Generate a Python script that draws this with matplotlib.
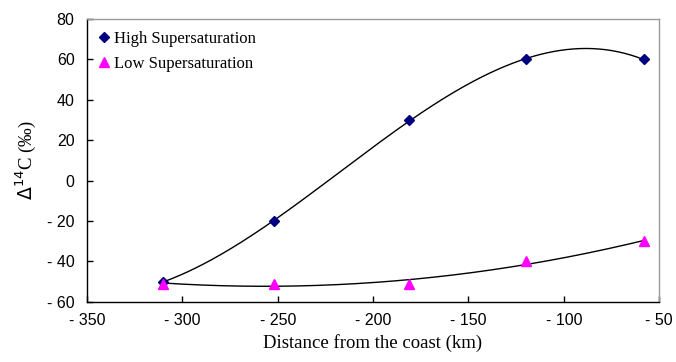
import numpy as np
import matplotlib.pyplot as plt

distance = [-310, -252, -181, -120, -58]
high_sat = [-50, -20, 30, 60, 60]
low_sat = [-51, -51, -51, -40, -30]

xticks = [-350, -300, -250, -200, -150, -100, -50]
yticks = [-60, -40, -20, 0, 20, 40, 60, 80]

fig = plt.figure(figsize=(6.76, 3.62), dpi=100)
ax = fig.add_axes([0.1287, 0.166, 0.8463, 0.7815])

x = np.array(distance, dtype=float)
xs = np.linspace(x.min(), x.max(), 300)

# trendlines (polynomial fits to each series)
p_high = np.polyfit(x, high_sat, 3)
p_low = np.polyfit(x, low_sat, 2)
ax.plot(xs, np.polyval(p_high, xs), color="black", lw=1.0, zorder=2)
ax.plot(xs, np.polyval(p_low, xs), color="black", lw=1.0, zorder=2)

ax.plot(distance, high_sat, ls="none", marker="D", ms=5, color="#000080",
        label="High Supersaturation", zorder=3)
ax.plot(distance, low_sat, ls="none", marker="^", ms=7, color="#FF00FF",
        label="Low Supersaturation", zorder=3)

ax.set_xlim(-350, -50)
ax.set_ylim(-60, 80)
ax.set_xticks(xticks)
ax.set_yticks(yticks)
ax.set_xticklabels([str(t).replace("-", "- ") for t in xticks],
                   family="Liberation Sans", fontsize=11.5)
ax.set_yticklabels([str(t).replace("-", "- ") for t in yticks],
                   family="Liberation Sans", fontsize=11.5)
ax.tick_params(axis="y", direction="in", length=4, width=1, pad=9)
ax.tick_params(axis="x", direction="in", length=4, width=1, pad=8)

for s in ["left", "bottom"]:
    ax.spines[s].set_color("black")
    ax.spines[s].set_linewidth(1.0)
for s in ["top", "right"]:
    ax.spines[s].set_color("#999999")
    ax.spines[s].set_linewidth(1.0)

ax.set_xlabel("Distance from the coast (km)", family="Liberation Serif",
              fontsize=13.5, labelpad=4)
ax.set_ylabel(r"$\Delta^{14}$C (‰)", family="Liberation Serif", fontsize=13.5,
              labelpad=6)

leg = ax.legend(loc="upper left", frameon=False, handlelength=0.6,
                handletextpad=0.3, labelspacing=0.55, borderaxespad=0.3,
                prop={"family": "Liberation Serif", "size": 12})

fig.savefig("out.png", dpi=100)
